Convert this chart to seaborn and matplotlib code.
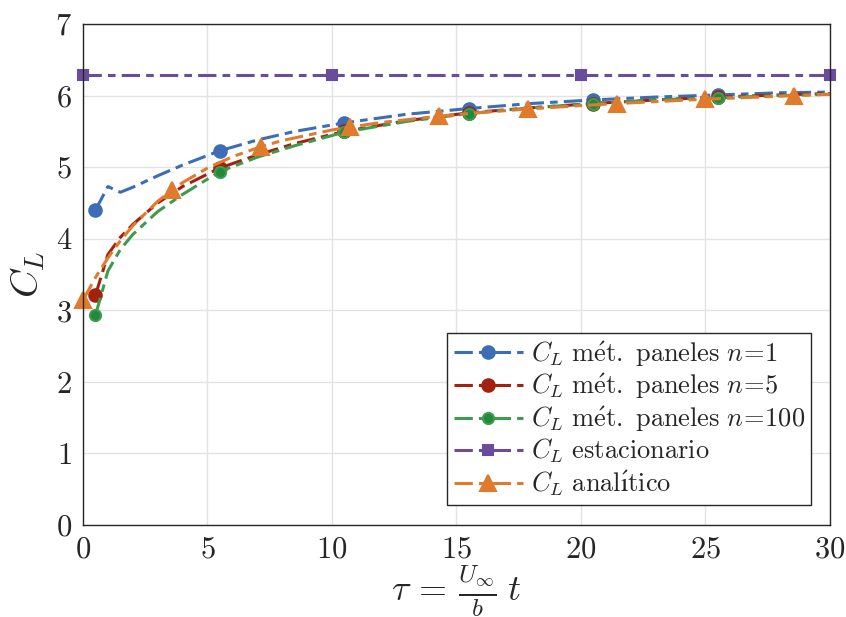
import numpy as np
import pandas as pd
import matplotlib
matplotlib.use("Agg")
import matplotlib.pyplot as plt
import seaborn as sns

# Time axis (dimensionless) and lift coefficient series
tau_panel = [0.5, 1.0, 1.5, 2.0, 3.0, 4.0, 5.5, 7.0, 8.5, 10.5, 13.0, 15.5,
             18.0, 20.5, 23.0, 25.5, 28.0, 30.0]
cl_n1 = [4.40, 4.73, 4.65, 4.72, 4.88, 5.03, 5.23, 5.38, 5.50, 5.62, 5.74,
         5.82, 5.89, 5.94, 5.98, 6.01, 6.04, 6.05]
cl_n5 = [3.21, 3.78, 4.02, 4.20, 4.50, 4.73, 4.99, 5.17, 5.33, 5.50, 5.65,
         5.76, 5.83, 5.89, 5.94, 5.98, 6.01, 6.03]
cl_n100 = [2.93, 3.55, 3.85, 4.06, 4.38, 4.62, 4.94, 5.14, 5.30, 5.49, 5.64,
           5.75, 5.83, 5.89, 5.94, 5.97, 6.00, 6.02]
panel_marks = [0, 6, 9, 11, 13, 15]

tau_steady = [0.0, 10.0, 20.0, 30.0]
cl_steady = [6.2832, 6.2832, 6.2832, 6.2832]

tau_analytic = [0.0, 0.5, 1.0, 1.5, 2.0, 3.0, 3.571, 4.0, 5.0, 6.0, 7.143, 8.0,
                10.0, 10.714, 12.0, 14.286, 16.0, 17.857, 20.0, 21.429, 24.0,
                25.0, 28.571, 30.0]
cl_analytic = [3.142, 3.458, 3.733, 3.973, 4.182, 4.523, 4.680, 4.785, 4.988,
               5.146, 5.287, 5.372, 5.520, 5.562, 5.625, 5.713, 5.765, 5.813,
               5.861, 5.889, 5.934, 5.950, 6.000, 6.019]
analytic_marks = [0, 6, 10, 13, 15, 17, 19, 21, 22]

labels = [r"$C_L\ \mathrm{m\acute{e}t.\ paneles}\ n\!=\!1$",
          r"$C_L\ \mathrm{m\acute{e}t.\ paneles}\ n\!=\!5$",
          r"$C_L\ \mathrm{m\acute{e}t.\ paneles}\ n\!=\!100$",
          r"$C_L\ \mathrm{estacionario}$",
          "$C_L\\ \\mathrm{anal\\acute{\u0131}tico}$"]

x_ticks = [0, 5, 10, 15, 20, 25, 30]
y_ticks = [0, 1, 2, 3, 4, 5, 6, 7]

sns.set_theme(style="whitegrid")
plt.rcParams["font.family"] = ["cmr10", "STIXGeneral", "DejaVu Serif"]
plt.rcParams["mathtext.fontset"] = "cm"
plt.rcParams["axes.formatter.use_mathtext"] = True

fig = plt.figure(figsize=(8.46, 6.17), dpi=100)
ax = fig.add_axes([0.0981, 0.149, 0.8829, 0.812])

dash = (0, (6, 2, 2.5, 2))
lw = 2.2

series = [
    (tau_panel, cl_n1, "#3d6db5", "#3d6db5", "#3d6db5", "o", 9, panel_marks),
    (tau_panel, cl_n5, "#a3210f", "#a3210f", "#a3210f", "o", 9, panel_marks),
    (tau_panel, cl_n100, "#3f9b50", "#23893a", "#3f9b50", "o", 8, panel_marks),
    (tau_steady, cl_steady, "#6a4c9c", "#6a4c9c", "#6a4c9c", "s", 7.5, None),
    (tau_analytic, cl_analytic, "#e07b2e", "#e07b2e", "#e07b2e", "^", 12, analytic_marks),
]

for (x, y, c, mfc, mec, m, ms, me), lab in zip(series, labels):
    df = pd.DataFrame({"tau": x, "cl": y})
    sns.lineplot(data=df, x="tau", y="cl", ax=ax, estimator=None, sort=False,
                 color=c, lw=lw, linestyle=dash, marker=m, markersize=ms,
                 markerfacecolor=mfc, markeredgecolor=mec, markeredgewidth=1.5,
                 markevery=me, clip_on=False, label=lab)

ax.set_xlim(0, 30)
ax.set_ylim(0, 7)
ax.set_xticks(x_ticks)
ax.set_yticks(y_ticks)
ax.grid(True, color="#e3e3e3", lw=1.0)
ax.set_facecolor("white")
for s in ax.spines.values():
    s.set_color("#262626")
    s.set_linewidth(1.0)
ax.tick_params(axis="both", direction="in", length=6, width=1.0,
               color="#262626", labelsize=22, labelcolor="#262626", pad=8)

ax.set_xlabel(r"$\tau\,=\,\frac{U_\infty}{b}\;t$", fontsize=26, labelpad=0)
ax.set_ylabel(r"$C_L$", fontsize=28, labelpad=6)

leg = ax.legend(loc="lower right", bbox_to_anchor=(0.975, 0.04), fontsize=19,
                frameon=True, fancybox=False, framealpha=1, edgecolor="#262626",
                handlelength=2.6, handletextpad=0.3, borderpad=0.25,
                labelspacing=0.12, borderaxespad=0)
leg.get_frame().set_linewidth(1.0)

fig.savefig("out.png", dpi=100, facecolor="white")
